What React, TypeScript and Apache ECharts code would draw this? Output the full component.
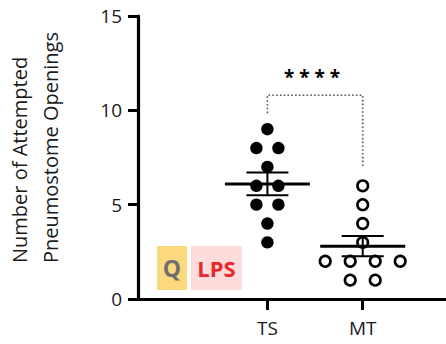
import React, { useEffect, useRef } from "react";
import * as echarts from "echarts";

const categories = ["TS", "MT"];
const tsValues = [9, 8, 8, 7, 6, 6, 5, 5, 4, 3];
const mtValues = [6, 5, 4, 3, 2, 2, 2, 2, 1, 1];
const yTicks = [0, 5, 10, 15];
const yTitle = "Number of Attempted\nPneumostome Openings";
const bracket = { y: 10.8, leftBottom: 9.85, rightBottom: 7.0, stars: "****", starY: 11.75 };
const legendTags = ["Q", "LPS"];

const FONT = "'Open Sans', 'Noto Sans', sans-serif";

function stats(v: number[]) {
  const n = v.length;
  const mean = v.reduce((a, b) => a + b, 0) / n;
  const sd = Math.sqrt(v.reduce((a, b) => a + (b - mean) * (b - mean), 0) / (n - 1));
  return { mean, sem: sd / Math.sqrt(n) };
}

// beeswarm: spread duplicate values horizontally (offset index)
function swarm(v: number[], xPos: number) {
  const counts: Record<number, number> = {};
  v.forEach((d) => (counts[d] = (counts[d] || 0) + 1));
  const seen: Record<number, number> = {};
  return v.map((d) => {
    const i = seen[d] || 0;
    seen[d] = i + 1;
    return [xPos, d, i - (counts[d] - 1) / 2];
  });
}

export default function App() {
  const ref = useRef<HTMLDivElement>(null);
  useEffect(() => {
    if (!ref.current) return;
    const chart = echarts.init(ref.current, null, { renderer: "svg" });
    const tsStats = stats(tsValues);
    const mtStats = stats(mtValues);

    const dotSeries = (vals: number[], xPos: number, filled: boolean, spacing: number) => ({
      type: "custom",
      data: swarm(vals, xPos),
      renderItem: (params: any, api: any) => {
        const p = api.coord([api.value(0), api.value(1)]);
        const off = api.value(2) * spacing;
        return filled
          ? { type: "circle", shape: { cx: p[0] + off, cy: p[1], r: 6.2 }, style: { fill: "#000" } }
          : {
              type: "circle",
              shape: { cx: p[0] + off, cy: p[1], r: 5.3 },
              style: { fill: "#fff", stroke: "#000", lineWidth: 2.6 },
            };
      },
      z: 3,
    });

    const meanSeries = {
      type: "custom",
      data: [
        [1, tsStats.mean, tsStats.sem],
        [2, mtStats.mean, mtStats.sem],
      ],
      renderItem: (params: any, api: any) => {
        const x = api.value(0);
        const m = api.value(1);
        const s = api.value(2);
        const pm = api.coord([x, m]);
        const pt = api.coord([x, m + s]);
        const pb = api.coord([x, m - s]);
        const st = { stroke: "#000", lineWidth: 2 };
        return {
          type: "group",
          children: [
            { type: "line", shape: { x1: pm[0] - 42.5, y1: pm[1], x2: pm[0] + 42.5, y2: pm[1] }, style: { stroke: "#000", lineWidth: 3 } },
            { type: "line", shape: { x1: pt[0], y1: pt[1], x2: pb[0], y2: pb[1] }, style: st },
            { type: "line", shape: { x1: pt[0] - 21, y1: pt[1], x2: pt[0] + 21, y2: pt[1] }, style: st },
            { type: "line", shape: { x1: pb[0] - 21, y1: pb[1], x2: pb[0] + 21, y2: pb[1] }, style: st },
          ],
        };
      },
      z: 4,
    };

    const bracketSeries = {
      type: "line",
      data: [
        [1, bracket.leftBottom],
        [1, bracket.y],
        [2, bracket.y],
        [2, bracket.rightBottom],
      ],
      symbol: "none",
      lineStyle: { color: "#555", width: 1.6, type: [1.6, 2.2] },
      silent: true,
      z: 2,
    };

    const starSeries = {
      type: "custom",
      data: [[1.5, bracket.starY]],
      renderItem: (params: any, api: any) => {
        const p = api.coord([api.value(0), api.value(1)]);
        return {
          type: "text",
          x: p[0] - 3,
          y: p[1],
          style: {
            text: bracket.stars.split("").join(" "),
            fontSize: 19,
            fontWeight: "bold",
            fontFamily: FONT,
            fill: "#000",
            align: "center",
            verticalAlign: "middle",
          },
        };
      },
    };

    chart.setOption({
      animation: false,
      grid: { left: 138, right: 0, top: 16, bottom: 45, containLabel: false },
      xAxis: {
        type: "value",
        min: -0.358,
        max: 2.874,
        splitLine: { show: false },
        axisLine: { show: true, onZero: false, lineStyle: { color: "#000", width: 3.2 } },
        axisTick: { show: true, customValues: [1, 2], length: 11, lineStyle: { color: "#000", width: 3 } },
        axisLabel: {
          customValues: [1, 2],
          formatter: (v: number) => categories[Math.round(v) - 1] || "",
          color: "#1a1a1a",
          fontSize: 19,
          fontFamily: FONT,
          margin: 19,
        },
      },
      yAxis: {
        type: "value",
        position: "left",
        min: yTicks[0],
        max: yTicks[yTicks.length - 1],
        interval: 5,
        splitLine: { show: false },
        axisLine: { show: true, onZero: false, lineStyle: { color: "#000", width: 3.2 } },
        axisTick: { show: true, inside: false, length: 10, lineStyle: { color: "#000", width: 3 } },
        axisLabel: { color: "#1a1a1a", fontSize: 19, fontFamily: FONT, margin: 16 },
      },
      graphic: [
        {
          type: "text",
          x: 35,
          y: 263,
          rotation: Math.PI / 2,
          style: {
            text: yTitle,
            fill: "#1a1a1a",
            fontSize: 20,
            fontFamily: FONT,
            lineHeight: 31,
            align: "left",
            verticalAlign: "middle",
          },
        },
        { type: "rect", left: 157, top: 246, shape: { width: 30, height: 44 }, style: { fill: "#fdd97d" } },
        {
          type: "text",
          x: 172,
          y: 268,
          style: { text: legendTags[0], fill: "#6e6e6e", fontSize: 23, fontWeight: "bold", fontFamily: FONT, align: "center", verticalAlign: "middle" },
        },
        { type: "rect", left: 191, top: 246, shape: { width: 51, height: 44 }, style: { fill: "#ffdcdc" } },
        {
          type: "text",
          x: 216.5,
          y: 268,
          style: { text: legendTags[1], fill: "#e8282d", fontSize: 22, fontWeight: "bold", fontFamily: FONT, align: "center", verticalAlign: "middle" },
        },
      ],
      series: [
        bracketSeries,
        starSeries,
        dotSeries(tsValues, 1, true, 22),
        dotSeries(mtValues, 2, false, 25),
        meanSeries,
      ],
    });
    return () => chart.dispose();
  }, []);
  return <div ref={ref} style={{ width: 446, height: 344, position: "absolute", left: 0, top: 0 }} />;
}
